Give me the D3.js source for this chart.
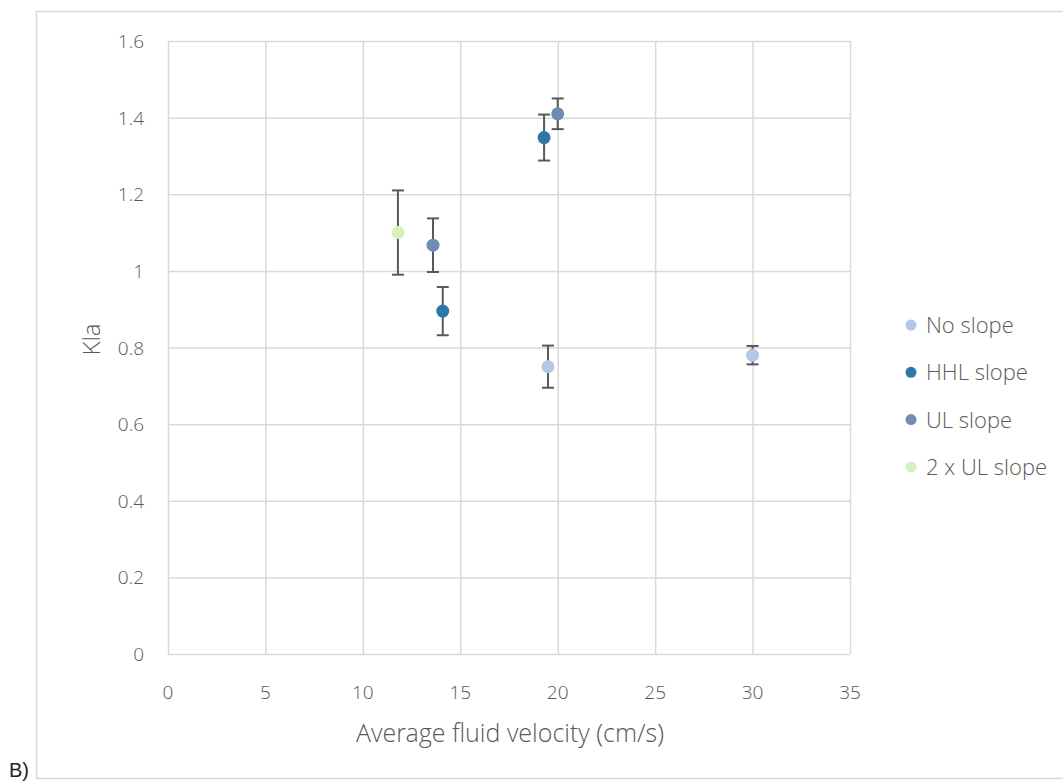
<html>
<head>
<script src="https://d3js.org/d3.v7.min.js"></script>
<style>
  body { margin: 0; background: #fff; }
  text { font-family: "Open Sans Light", "Open Sans", "Noto Sans", sans-serif; font-weight: 300; fill: #595959; }
  .gridlines line { stroke: #d9d9d9; stroke-width: 1.5; }
  .gridlines .domain { stroke: none; }
</style>
</head>
<body>
<svg id="chart" width="1063" height="782"></svg>
<script>
// data
const seriesNames = ["No slope", "HHL slope", "UL slope", "2 x UL slope"];
const seriesColors = ["#b4c7e7", "#2e78a8", "#6f8db3", "#d6f1bd"];
const noSlopeX = [19.5, 30];
const noSlopeY = [0.75, 0.78];
const noSlopeErr = [0.055, 0.024];
const hhlX = [14.1, 19.3];
const hhlY = [0.895, 1.348];
const hhlErr = [0.063, 0.06];
const ulX = [13.6, 20];
const ulY = [1.067, 1.41];
const ulErr = [0.07, 0.04];
const ul2X = [11.8];
const ul2Y = [1.1];
const ul2Err = [0.11];
const xTicks = [0, 5, 10, 15, 20, 25, 30, 35];
const yTicks = [0, 0.2, 0.4, 0.6, 0.8, 1, 1.2, 1.4, 1.6];

const series = [
  [noSlopeX, noSlopeY, noSlopeErr],
  [hhlX, hhlY, hhlErr],
  [ulX, ulY, ulErr],
  [ul2X, ul2Y, ul2Err]
].map((s, k) => ({
  name: seriesNames[k], color: seriesColors[k],
  pts: s[0].map((x, i) => ({ x: x, y: s[1][i], e: s[2][i] }))
}));

const svg = d3.select("#chart");

// outer chart frame
svg.append("rect")
  .attr("x", 36.5).attr("y", 11.5)
  .attr("width", 1030).attr("height", 767)
  .attr("fill", "none").attr("stroke", "#d9d9d9").attr("stroke-width", 1.5);

svg.append("text")
  .attr("x", 9).attr("y", 777)
  .style("font-family", "Liberation Sans, Arial, sans-serif")
  .style("font-weight", 400)
  .style("fill", "#222")
  .style("font-size", "20px")
  .text("B)");

const margin = { left: 168, top: 41, right: 850, bottom: 654 };
const x = d3.scaleLinear().domain([0, 35]).range([margin.left, margin.right]);
const y = d3.scaleLinear().domain([0, 1.6]).range([margin.bottom, margin.top]);

// gridlines
svg.append("g").attr("class", "gridlines")
  .attr("transform", `translate(0,${margin.bottom})`)
  .call(d3.axisBottom(x).tickValues(xTicks).tickSize(-(margin.bottom - margin.top)).tickFormat(""));
svg.append("g").attr("class", "gridlines")
  .attr("transform", `translate(${margin.left},0)`)
  .call(d3.axisLeft(y).tickValues(yTicks).tickSize(-(margin.right - margin.left)).tickFormat(""));

// tick labels
svg.append("g").selectAll("text").data(yTicks).join("text")
  .attr("x", 144).attr("y", d => y(d) + 7)
  .attr("text-anchor", "end")
  .style("font-size", "19px")
  .text(d => d3.format("")(+d.toFixed(1)));
svg.append("g").selectAll("text").data(xTicks).join("text")
  .attr("x", d => x(d)).attr("y", 699)
  .attr("text-anchor", "middle")
  .style("font-size", "19px")
  .text(d => d);

// axis titles
svg.append("text")
  .attr("x", (margin.left + margin.right) / 2 + 1).attr("y", 742)
  .attr("text-anchor", "middle")
  .style("font-size", "25px")
  .text("Average fluid velocity (cm/s)");
svg.append("text")
  .attr("transform", `translate(100,${(margin.top + margin.bottom) / 2 - 8}) rotate(-90)`)
  .attr("text-anchor", "middle")
  .style("font-size", "24px")
  .text("Kla");

// error bars and points
const plot = svg.append("g");
series.forEach(s => {
  const g = plot.append("g");
  g.selectAll("line.bar").data(s.pts).join("line").attr("class", "bar")
    .attr("x1", d => x(d.x)).attr("x2", d => x(d.x))
    .attr("y1", d => y(d.y - d.e)).attr("y2", d => y(d.y + d.e))
    .attr("stroke", "#595959").attr("stroke-width", 2);
  [1, -1].forEach(sg => {
    g.selectAll("line.cap" + sg).data(s.pts).join("line").attr("class", "cap" + sg)
      .attr("x1", d => x(d.x) - 6).attr("x2", d => x(d.x) + 6)
      .attr("y1", d => y(d.y + sg * d.e)).attr("y2", d => y(d.y + sg * d.e))
      .attr("stroke", "#595959").attr("stroke-width", 2);
  });
  g.selectAll("circle").data(s.pts).join("circle")
    .attr("cx", d => x(d.x)).attr("cy", d => y(d.y))
    .attr("r", 6.5).attr("fill", s.color);
});

// legend
const legend = svg.append("g").selectAll("g").data(series).join("g")
  .attr("transform", (d, i) => `translate(911,${325 + i * 47.3})`);
legend.append("circle").attr("r", 5.5).attr("fill", d => d.color);
legend.append("text").attr("x", 15).attr("y", 8)
  .style("font-size", "22px")
  .text(d => d.name);
</script>
</body>
</html>
